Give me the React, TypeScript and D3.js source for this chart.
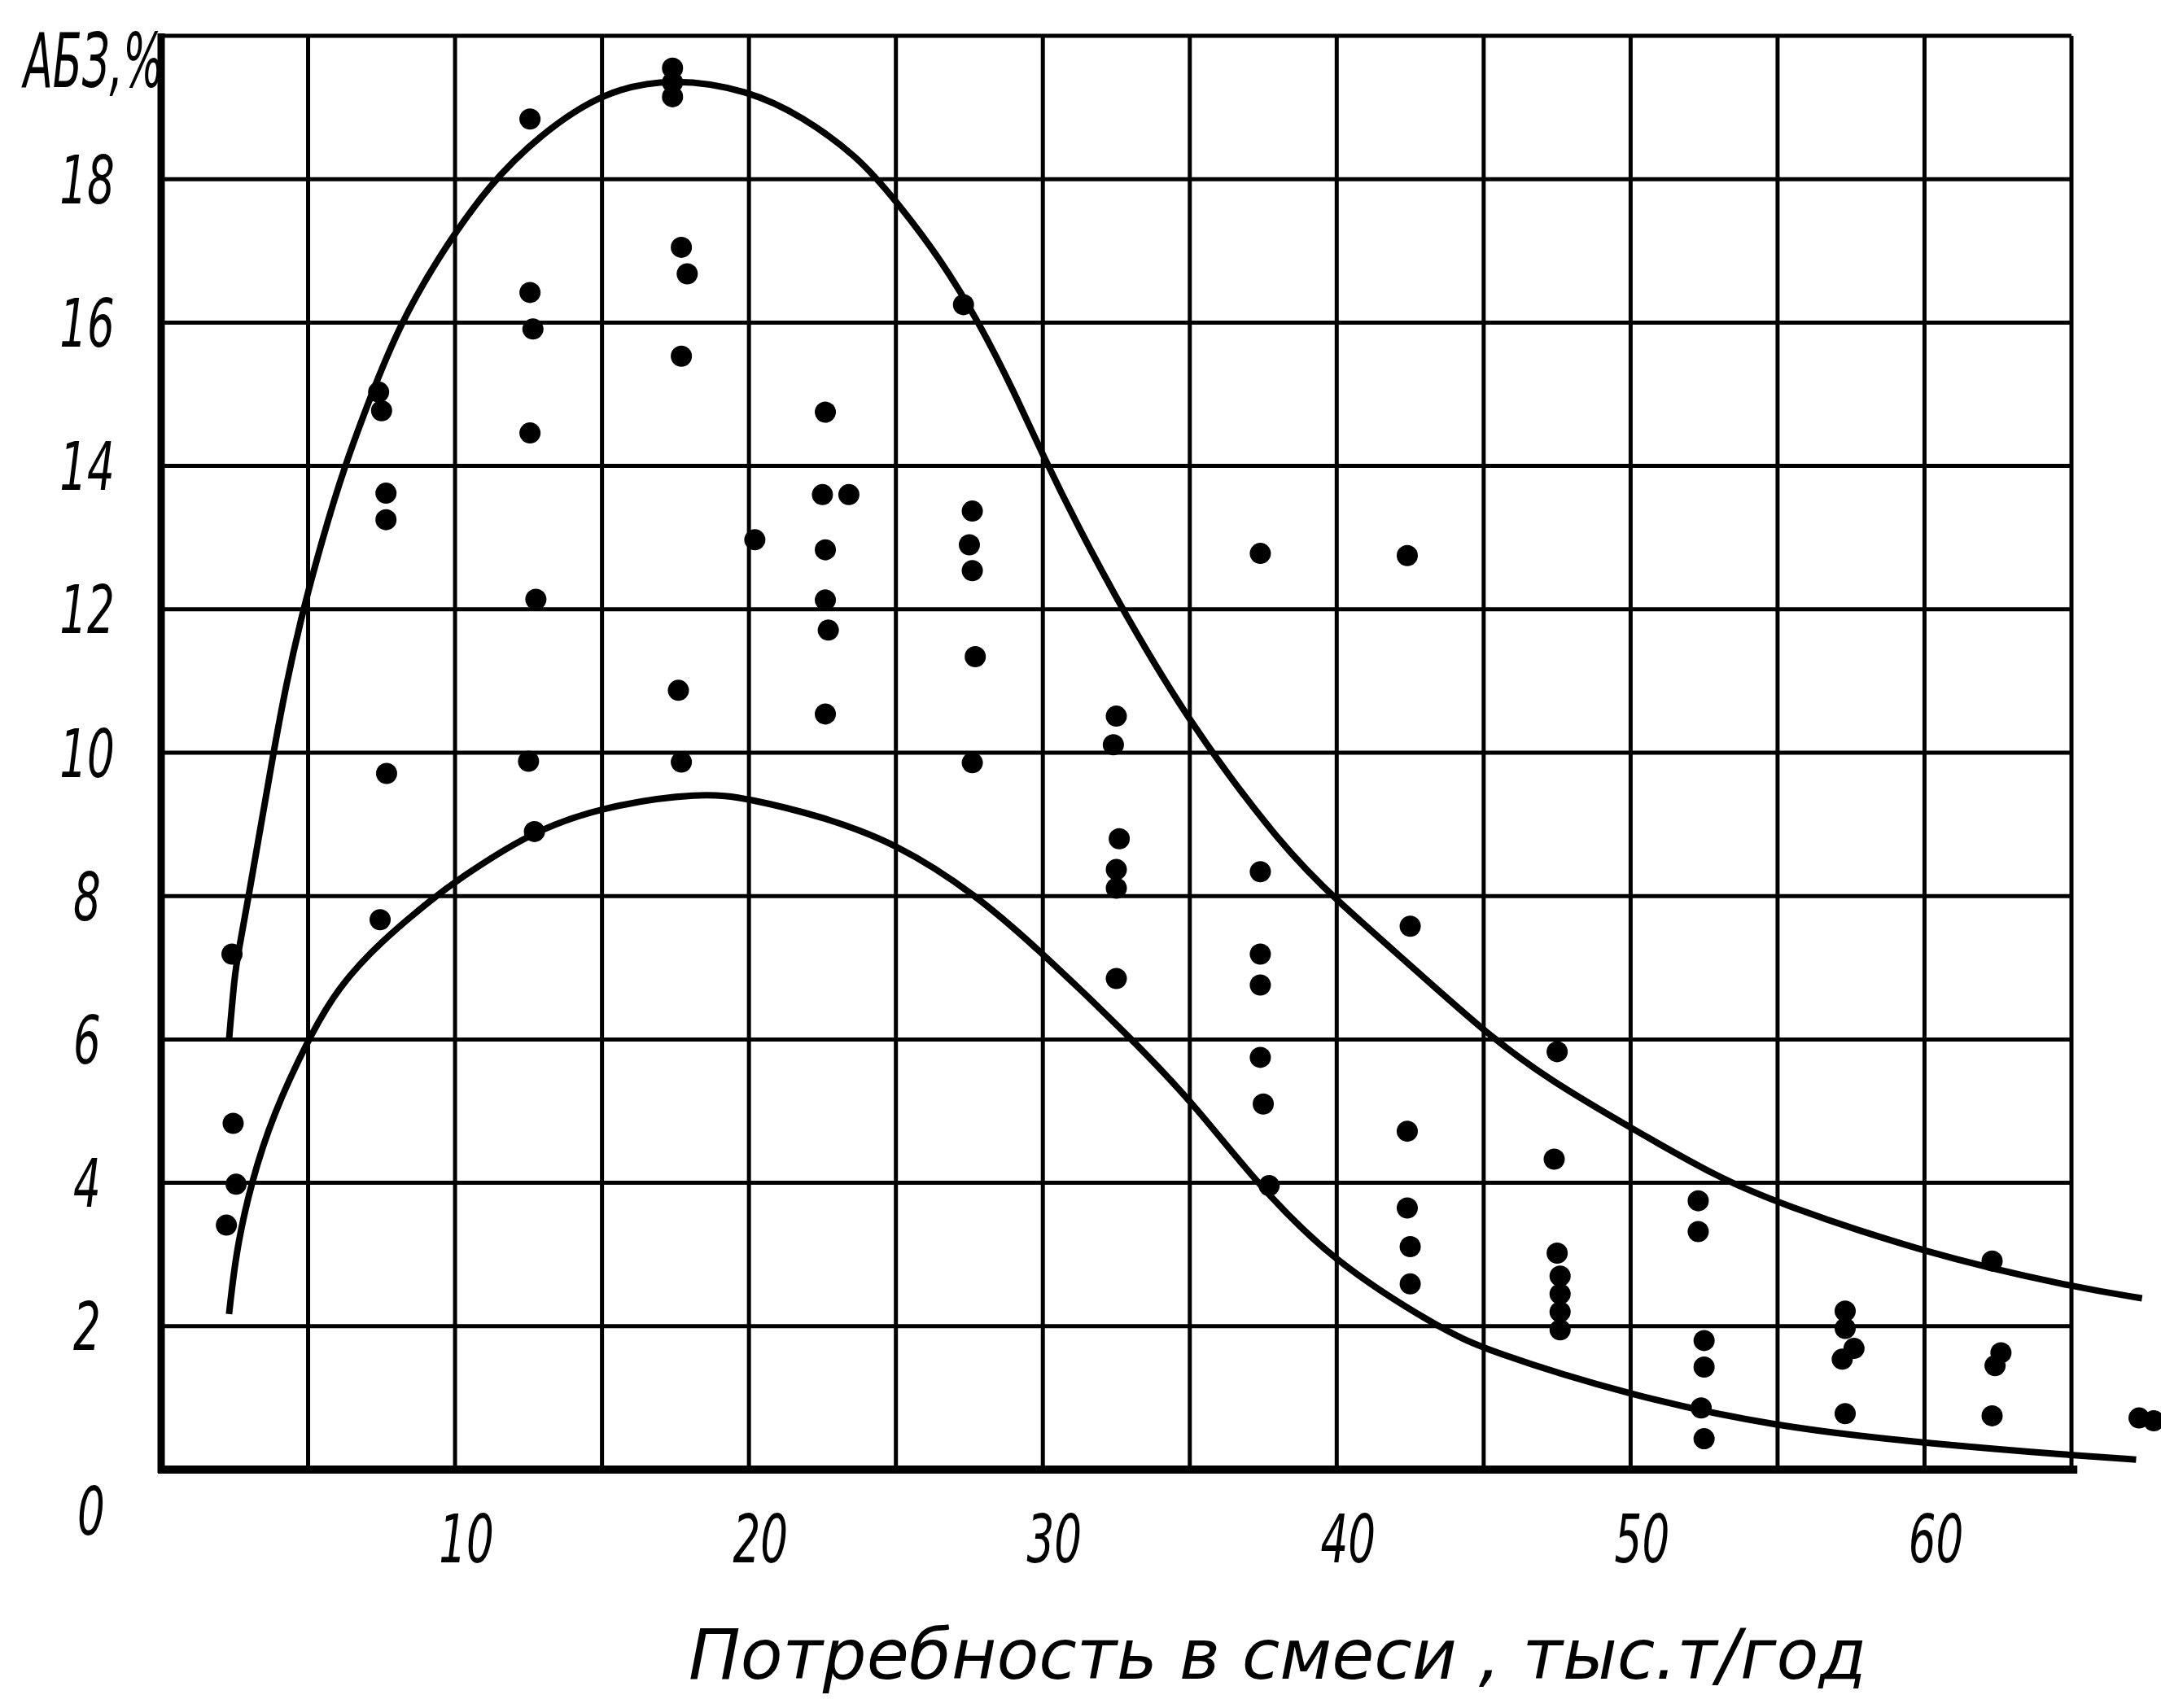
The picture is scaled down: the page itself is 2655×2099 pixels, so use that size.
import * as d3 from "d3";

const xTicks = [10, 20, 30, 40, 50, 60];
const yTicks = [2, 4, 6, 8, 10, 12, 14, 16, 18];
const xGridLines = [5, 10, 15, 20, 25, 30, 35, 40, 45, 50, 55, 60];
const yGridLines = [2, 4, 6, 8, 10, 12, 14, 16, 18];

const yTitle = "АБЗ,%";
const xTitle = "Потребность в смеси , тыс.т/год";

// observed points (demand, share of plants %)
const pointX = [
  2.41, 2.45, 2.55, 2.22,
  7.4, 7.5, 7.65, 7.65, 7.67, 7.45,
  12.55, 12.55, 12.65, 12.55, 12.75, 12.5, 12.7,
  17.4, 17.4, 17.4, 17.7, 17.9, 17.7, 17.6, 17.7,
  20.2, 22.6, 22.5, 23.4, 22.6, 22.6, 22.7, 22.6,
  27.3, 27.6, 27.5, 27.6, 27.7, 27.6,
  32.5, 32.4, 32.6, 32.5, 32.5, 32.5,
  37.4, 37.4, 37.4, 37.4, 37.4, 37.5, 37.7,
  42.4, 42.5, 42.4, 42.4, 42.5, 42.5,
  47.5, 47.4, 47.5, 47.6, 47.6, 47.6, 47.6,
  52.3, 52.3, 52.5, 52.5, 52.4, 52.5,
  57.3, 57.3, 57.6, 57.2, 57.3,
  62.3, 62.6, 62.4, 62.3,
  67.3, 67.8,
];
const pointY = [
  7.19, 4.83, 3.98, 3.41,
  15.03, 14.77, 13.62, 13.25, 9.71, 7.67,
  18.84, 16.42, 15.91, 14.46, 12.14, 9.88, 8.9,
  19.55, 19.35, 19.15, 17.05, 16.68, 15.53, 10.87, 9.87,
  12.97, 14.75, 13.6, 13.6, 12.83, 12.13, 11.71, 10.54,
  16.25, 13.37, 12.9, 12.54, 11.34, 9.86,
  10.51, 10.11, 8.8, 8.37, 8.11, 6.85,
  12.78, 8.34, 7.19, 6.76, 5.75, 5.1, 3.96,
  12.75, 7.58, 4.72, 3.65, 3.11, 2.59,
  5.83, 4.33, 3.02, 2.7, 2.45, 2.2, 1.95,
  3.75, 3.32, 1.8, 1.43, 0.86, 0.43,
  2.21, 1.97, 1.69, 1.54, 0.78,
  2.91, 1.63, 1.45, 0.75,
  0.72, 0.68,
];

// upper envelope curve
const upperX = [
  2.31, 2.5, 2.62, 3.0, 3.4, 3.8, 4.25, 4.8, 5.5, 6.2, 7.15, 8.1, 9.4, 11.2, 12.9,
  15, 17.4, 20, 21.8, 23.7, 25, 26.5, 27.9, 29, 30, 31.2, 32.7, 35, 38.2, 40,
  42.6, 45.1, 47.2, 50.2, 53, 55, 60, 65, 67.4,
];
const upperY = [
  6.0, 6.9, 7.2, 8.05, 9.0, 9.95, 10.95, 11.95, 13.0, 13.95, 15.0, 15.95, 16.9, 17.95, 18.62,
  19.22, 19.42, 19.24, 18.88, 18.32, 17.7, 16.9, 15.95, 15.05, 14.15, 13.15, 12, 10.4, 8.66, 7.94,
  7.0, 6.08, 5.44, 4.72, 4.07, 3.72, 3.02, 2.55, 2.39,
];

// lower envelope curve
const lowerX = [
  2.31, 2.55, 3.06, 3.8, 5.0, 6.0, 7.5, 9.35, 10, 12.5, 15, 18.4, 20, 22.5, 25,
  27.7, 30, 33.1, 35.2, 37.2, 39.8, 43.5, 45.1, 50, 54.9, 59.9, 65, 67.2,
];
const lowerY = [
  2.17, 3.05, 4.0, 4.95, 6.0, 6.72, 7.38, 8.0, 8.2, 8.88, 9.25, 9.45, 9.36, 9.11, 8.74,
  8.03, 7.2, 5.98, 5.07, 4.03, 2.92, 1.97, 1.66, 1.03, 0.6, 0.37, 0.2, 0.14,
];

const font = "'DejaVu Sans Condensed', 'Liberation Sans Narrow', 'DejaVu Sans', sans-serif";

export default function App() {
  const width = 2655;
  const height = 2099;

  const x = d3.scaleLinear().domain([0, 65]).range([198, 2545]);
  const y = d3.scaleLinear().domain([0, 20]).range([1806, 44]);

  const line = d3
    .line<[number, number]>()
    .x((d) => x(d[0]))
    .y((d) => y(d[1]))
    .curve(d3.curveBasis);

  const upper = line(upperX.map((v, i) => [v, upperY[i]] as [number, number])) || undefined;
  const lower = line(lowerX.map((v, i) => [v, lowerY[i]] as [number, number])) || undefined;

  return (
    <svg
      width={width}
      height={height}
      style={{ position: "absolute", left: 0, top: 0, background: "#fff" }}
    >
      <rect width={width} height={height} fill="#fff" />

      {/* grid */}
      <g stroke="#000" strokeWidth={5}>
        {xGridLines.map((v) => (
          <line key={"vx" + v} x1={x(v)} x2={x(v)} y1={y(20)} y2={y(0)} />
        ))}
        {yGridLines.map((v) => (
          <line key={"hy" + v} x1={x(0)} x2={x(65)} y1={y(v)} y2={y(v)} />
        ))}
        <line x1={x(0)} x2={x(65)} y1={y(20)} y2={y(20)} />
        <line x1={x(65)} x2={x(65)} y1={y(20)} y2={y(0)} />
      </g>

      {/* axes */}
      <line x1={x(0)} x2={x(0)} y1={y(20) - 3} y2={y(0) + 4} stroke="#000" strokeWidth={9} />
      <line x1={x(0) - 4} x2={x(65.2)} y1={y(0)} y2={y(0)} stroke="#000" strokeWidth={10} />

      {/* curves */}
      <path d={upper} fill="none" stroke="#000" strokeWidth={8} strokeLinejoin="round" />
      <path d={lower} fill="none" stroke="#000" strokeWidth={8} strokeLinejoin="round" />

      {/* points */}
      {pointX.map((v, i) => (
        <circle key={"p" + i} cx={x(v)} cy={y(pointY[i])} r={13} fill="#000" />
      ))}

      {/* tick labels */}
      <g fontFamily={font} fontStyle="italic" fontSize={82} fill="#000" textAnchor="middle">
        {yTicks.map((v) => (
          <text key={"yt" + v} transform={`translate(107,${y(v)}) scale(0.72,1)`} dy="0.36em">
            {v}
          </text>
        ))}
        <text transform={`translate(112,1856) scale(0.72,1)`} dy="0.36em">
          0
        </text>
        {xTicks.map((v) => (
          <text key={"xt" + v} transform={`translate(${x(v) + 14},1890) scale(0.72,1)`} dy="0.36em">
            {v}
          </text>
        ))}
      </g>

      {/* titles */}
      <text
        x={29}
        y={107}
        fontFamily={font}
        fontStyle="italic"
        fontSize={92}
        textLength={172}
        lengthAdjust="spacingAndGlyphs"
        fill="#000"
      >
        {yTitle}
      </text>
      <text
        x={846}
        y={2063}
        fontFamily={font}
        fontStyle="italic"
        fontSize={86}
        textLength={1447}
        lengthAdjust="spacingAndGlyphs"
        fill="#000"
      >
        {xTitle}
      </text>
    </svg>
  );
}
